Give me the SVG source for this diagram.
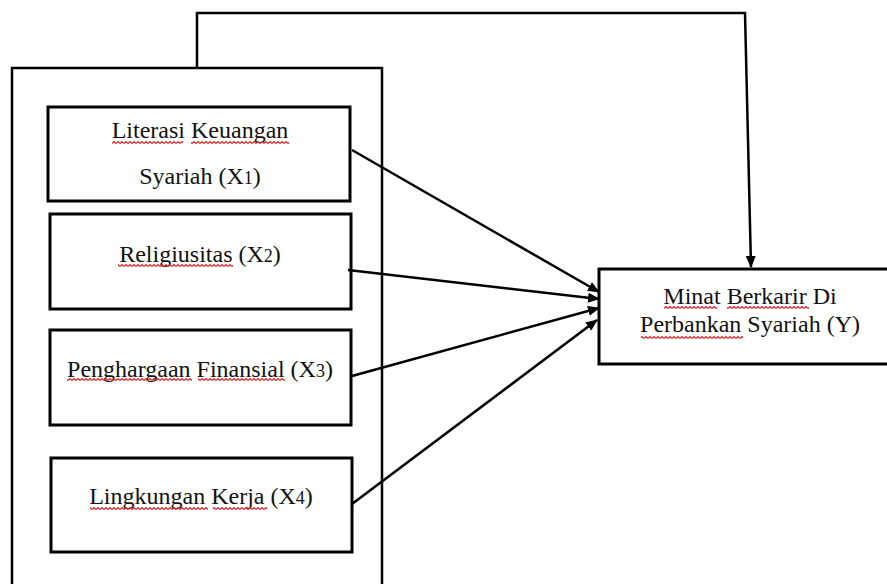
<svg xmlns="http://www.w3.org/2000/svg" width="887" height="584" viewBox="0 0 887 584">
<style>
.box{fill:#fff;stroke:#000;stroke-width:3}
.outer{fill:none;stroke:#000;stroke-width:2.5}
.conn{fill:none;stroke:#000;stroke-width:2.5}
.t{font-family:"Liberation Serif","Times New Roman",serif;font-size:24px;fill:#111;text-anchor:middle}
.sub{font-size:18px}
.sq{fill:url(#sq)}
</style>
<defs>
<marker id="ah" markerUnits="userSpaceOnUse" markerWidth="12" markerHeight="10" refX="11" refY="5" orient="auto">
<path d="M0,0 L12,5 L0,10 z" fill="#000"/>
</marker>
<pattern id="sq" width="4" height="3" patternUnits="userSpaceOnUse">
<path d="M0,2.5 L2,0.5 L4,2.5" fill="none" stroke="#e02020" stroke-width="1.1"/>
</pattern>
</defs>
<rect class="outer" x="12" y="68" width="370" height="540"/>
<g id="x1">
<rect class="box" x="48" y="107" width="302" height="94"/>
<text class="t" x="200" y="138">Literasi Keuangan</text>
<text class="t" x="200" y="184">Syariah (X<tspan class="sub">1</tspan>)</text>
<rect class="sq" x="112" y="141" width="71" height="3"/>
<rect class="sq" x="191" y="141" width="98" height="3"/>
</g>
<g id="x2">
<rect class="box" x="50" y="214" width="301" height="95"/>
<text class="t" x="200" y="262">Religiusitas (X<tspan class="sub">2</tspan>)</text>
<rect class="sq" x="118" y="264" width="115" height="3"/>
</g>
<g id="x3">
<rect class="box" x="50" y="330" width="301" height="95"/>
<text class="t" x="200" y="377">Penghargaan Finansial (X<tspan class="sub">3</tspan>)</text>
<rect class="sq" x="67" y="378" width="125" height="3"/>
<rect class="sq" x="198" y="378" width="87" height="3"/>
</g>
<g id="x4">
<rect class="box" x="51" y="458" width="301" height="94"/>
<text class="t" x="201" y="504">Lingkungan Kerja (X<tspan class="sub">4</tspan>)</text>
<rect class="sq" x="90" y="507" width="118" height="3"/>
<rect class="sq" x="213" y="507" width="54" height="3"/>
</g>
<g id="y">
<rect class="box" x="599" y="269" width="300" height="95"/>
<text class="t" x="750" y="304">Minat Berkarir Di</text>
<text class="t" x="750" y="332">Perbankan Syariah (Y)</text>
<rect class="sq" x="664" y="306" width="53" height="3"/>
<rect class="sq" x="727" y="306" width="82" height="3"/>
<rect class="sq" x="641" y="336" width="102" height="3"/>
</g>
<g id="connectors">
<polyline class="conn" points="197,68 197,13 745,13 751,267" marker-end="url(#ah)"/>
<line class="conn" x1="352" y1="150" x2="599" y2="292" marker-end="url(#ah)"/>
<line class="conn" x1="348" y1="270" x2="599" y2="299" marker-end="url(#ah)"/>
<line class="conn" x1="352" y1="376" x2="599" y2="308" marker-end="url(#ah)"/>
<line class="conn" x1="352" y1="504" x2="597" y2="320" marker-end="url(#ah)"/>
</g>
</svg>
